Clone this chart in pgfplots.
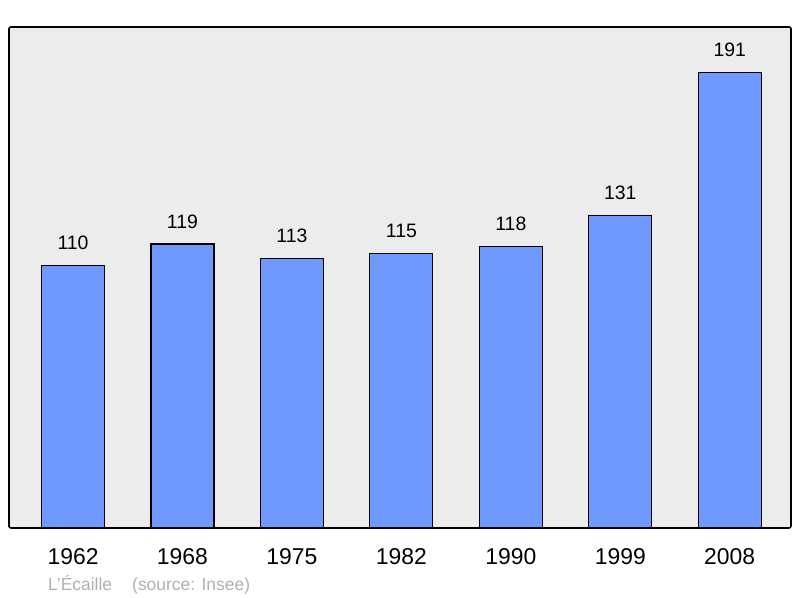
\documentclass[border=0pt]{standalone}
\usepackage{fontspec}
\setmainfont{Liberation Sans}
\usepackage{pgfplots}
\pgfplotsset{compat=1.18}
\definecolor{bgray}{RGB}{236,236,236}
\definecolor{barblue}{RGB}{112,153,255}
\definecolor{srcgray}{RGB}{176,176,176}
\begin{document}
\begin{tikzpicture}[x=1bp,y=1bp]
\useasboundingbox (0,0) rectangle (800,598);
\begin{axis}[
  at={(9bp,70bp)}, anchor=south west,
  width=782bp, height=501bp, scale only axis,
  xmin=-0.585, xmax=6.56, ymin=0, ymax=210,
  axis background/.style={fill=bgray},
  axis line style={line width=1.6bp, rounded corners=2bp},
  ytick=\empty,
  xtick={0,1,2,3,4,5,6},
  xticklabels={1962,1968,1975,1982,1990,1999,2008},
  major tick length=0pt,
  xticklabel style={font=\fontsize{23}{27}\selectfont, inner sep=0pt, anchor=north, yshift=-20bp},
  ybar, bar width=63bp,
  nodes near coords,
  every node near coord/.append style={font=\fontsize{19.5}{23}\selectfont, inner sep=0pt, anchor=south, yshift=15bp, text=black},
  /pgf/number format/assume math mode=true,
]
\addplot[fill=barblue, draw=black, line width=1.2bp] coordinates {(0,110) (1,119) (2,113) (3,115) (4,118) (5,131) (6,191)};
\end{axis}
\node[anchor=base west, inner sep=0pt, text=srcgray, font=\fontsize{17.5}{20}\selectfont] at (48,7) {L'Écaille};
\node[anchor=base west, inner sep=0pt, text=srcgray, font=\fontsize{17.5}{20}\selectfont] at (132,7) {(source: Insee)};
\end{tikzpicture}
\end{document}
